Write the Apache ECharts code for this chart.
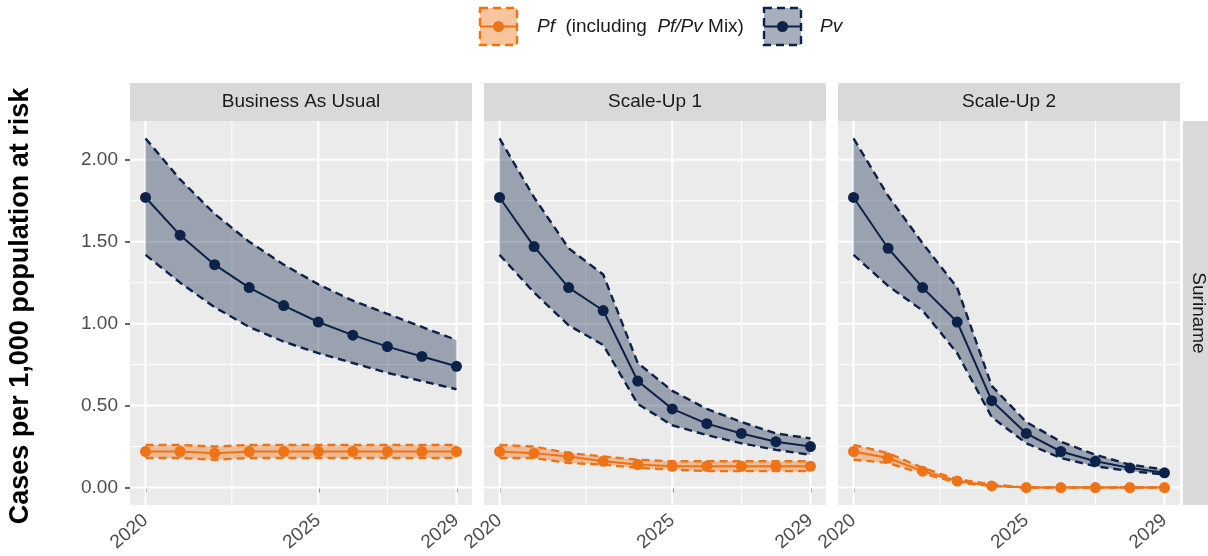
<!DOCTYPE html>
<html><head><meta charset="utf-8">
<script src="https://cdn.jsdelivr.net/npm/echarts@6/dist/echarts.min.js"></script>
<style>html,body{margin:0;padding:0;background:#fff}#c{width:1208px;height:556px}</style>
</head><body><div id="c"></div>
<script>
// ---------- data ----------
const years = [2020, 2021, 2022, 2023, 2024, 2025, 2026, 2027, 2028, 2029];
const xTicks = [2020, 2025, 2029];
const xMinorGrid = [2022.5, 2027];
const yTicks = [0, 0.5, 1, 1.5, 2];
const yMinorGrid = [0.25, 0.75, 1.25, 1.75];
const panelNames = ['Business As Usual', 'Scale-Up 1', 'Scale-Up 2'];
const rowName = 'Suriname';
const yTitle = 'Cases per 1,000 population at risk';

// Business As Usual
const bauPvMean = [1.77, 1.54, 1.36, 1.22, 1.11, 1.01, 0.93, 0.86, 0.80, 0.74];
const bauPvLow  = [1.42, 1.25, 1.10, 0.98, 0.89, 0.82, 0.76, 0.70, 0.65, 0.60];
const bauPvUp   = [2.13, 1.88, 1.67, 1.50, 1.36, 1.24, 1.14, 1.06, 0.98, 0.90];
const bauPfMean = [0.22, 0.22, 0.21, 0.22, 0.22, 0.22, 0.22, 0.22, 0.22, 0.22];
const bauPfLow  = [0.18, 0.18, 0.17, 0.18, 0.18, 0.18, 0.18, 0.18, 0.18, 0.18];
const bauPfUp   = [0.26, 0.26, 0.25, 0.26, 0.26, 0.26, 0.26, 0.26, 0.26, 0.26];
// Scale-Up 1
const su1PvMean = [1.77, 1.47, 1.22, 1.08, 0.65, 0.48, 0.39, 0.33, 0.28, 0.25];
const su1PvLow  = [1.42, 1.19, 0.99, 0.87, 0.51, 0.38, 0.32, 0.27, 0.23, 0.20];
const su1PvUp   = [2.13, 1.77, 1.46, 1.30, 0.76, 0.59, 0.48, 0.40, 0.33, 0.30];
const su1PfMean = [0.22, 0.21, 0.19, 0.16, 0.14, 0.13, 0.13, 0.13, 0.13, 0.13];
const su1PfLow  = [0.18, 0.18, 0.15, 0.14, 0.12, 0.11, 0.10, 0.10, 0.10, 0.10];
const su1PfUp   = [0.26, 0.25, 0.21, 0.19, 0.17, 0.16, 0.16, 0.16, 0.16, 0.16];
// Scale-Up 2
const su2PvMean = [1.77, 1.46, 1.22, 1.01, 0.53, 0.33, 0.22, 0.16, 0.12, 0.09];
const su2PvLow  = [1.42, 1.23, 1.08, 0.82, 0.43, 0.27, 0.18, 0.13, 0.10, 0.08];
const su2PvUp   = [2.13, 1.78, 1.49, 1.22, 0.62, 0.40, 0.28, 0.20, 0.14, 0.11];
const su2PfMean = [0.22, 0.18, 0.10, 0.04, 0.01, 0.00, 0.00, 0.00, 0.00, 0.00];
const su2PfLow  = [0.17, 0.15, 0.085, 0.03, 0.01, 0.00, 0.00, 0.00, 0.00, 0.00];
const su2PfUp   = [0.26, 0.21, 0.12, 0.05, 0.02, 0.00, 0.00, 0.00, 0.00, 0.00];

const panelData = [
  {pv: [bauPvLow, bauPvMean, bauPvUp], pf: [bauPfLow, bauPfMean, bauPfUp]},
  {pv: [su1PvLow, su1PvMean, su1PvUp], pf: [su1PfLow, su1PfMean, su1PfUp]},
  {pv: [su2PvLow, su2PvMean, su2PvUp], pf: [su2PfLow, su2PfMean, su2PfUp]}
];

// ---------- style ----------
const FONT = '"Liberation Sans", Arial, Helvetica, sans-serif';
const ORANGE = '#EF7216';
const NAVY = '#0C2249';
const ORANGE_FILL = 'rgba(239,114,22,0.38)';
const NAVY_FILL = 'rgba(12,34,73,0.36)';
const X_MIN = 2019.55, X_MAX = 2029.45;
const Y_MIN = -0.1065, Y_MAX = 2.2365;
const gridLefts = [130, 484, 838];
const GRID_W = 342, GRID_TOP = 121, GRID_H = 384;

const gridLineData = [];
xTicks.forEach(v => gridLineData.push([0, v, 1]));
xMinorGrid.forEach(v => gridLineData.push([0, v, 0]));
yTicks.forEach(v => gridLineData.push([1, v, 1]));
yMinorGrid.forEach(v => gridLineData.push([1, v, 0]));

const grids = [], xAxes = [], yAxes = [], series = [];
panelData.forEach((pd, i) => {
  grids.push({left: gridLefts[i], top: GRID_TOP, width: GRID_W, height: GRID_H,
    show: true, backgroundColor: '#EBEBEB', borderWidth: 0});
  xAxes.push({gridIndex: i, type: 'value', min: X_MIN, max: X_MAX,
    axisLine: {show: false}, splitLine: {show: false},
    axisTick: {show: true, customValues: xTicks, length: 5, lineStyle: {color: '#333333', width: 1.5}},
    axisLabel: {customValues: xTicks, rotate: 40, margin: 13, color: '#4D4D4D', fontSize: 19, fontFamily: FONT,
      formatter: v => String(v)}});
  yAxes.push({gridIndex: i, type: 'value', min: Y_MIN, max: Y_MAX,
    axisLine: {show: false}, splitLine: {show: false},
    axisTick: {show: i === 0, customValues: yTicks, length: 5, lineStyle: {color: '#333333', width: 1.5}},
    axisLabel: {show: i === 0, customValues: yTicks, margin: 12, color: '#4D4D4D', fontSize: 19, fontFamily: FONT,
      formatter: v => v.toFixed(2)}});
  // background gridlines
  series.push({
    type: 'custom', xAxisIndex: i, yAxisIndex: i, silent: true, z: 1, data: gridLineData,
    renderItem: (params, api) => {
      const cs = params.coordSys;
      const dir = api.value(0), v = api.value(1), maj = api.value(2);
      const w = maj ? 2 : 1;
      if (dir === 0) {
        const x = api.coord([v, 0])[0];
        return {type: 'line', shape: {x1: x, y1: cs.y, x2: x, y2: cs.y + cs.height}, style: {stroke: '#FFFFFF', lineWidth: w}};
      }
      const y = api.coord([2025, v])[1];
      return {type: 'line', shape: {x1: cs.x, y1: y, x2: cs.x + cs.width, y2: y}, style: {stroke: '#FFFFFF', lineWidth: w}};
    }
  });
  const addGroup = (arr, color, fill) => {
    const [low, mean, up] = arr;
    const rows = years.map((y, k) => [y, low[k], up[k]]);
    // ribbon polygon, drawn once from all rows through the axis scales
    series.push({
      type: 'custom', xAxisIndex: i, yAxisIndex: i, silent: true, z: 2,
      data: rows, encode: {x: 0, y: [1, 2]},
      renderItem: (params, api) => {
        if (params.dataIndex !== 0) return null;
        const top = rows.map(r => api.coord([r[0], r[2]]));
        const bot = rows.map(r => api.coord([r[0], r[1]])).reverse();
        return {type: 'polygon', shape: {points: top.concat(bot)}, style: {fill: fill}};
      }
    });
    const dash = {color: color, width: 2.4, type: [8, 5]};
    series.push({type: 'line', xAxisIndex: i, yAxisIndex: i, silent: true, z: 3,
      symbol: 'none', lineStyle: dash, data: years.map((y, k) => [y, low[k]])});
    series.push({type: 'line', xAxisIndex: i, yAxisIndex: i, silent: true, z: 3,
      symbol: 'none', lineStyle: dash, data: years.map((y, k) => [y, up[k]])});
    series.push({type: 'line', xAxisIndex: i, yAxisIndex: i, silent: true, z: 4,
      symbol: 'circle', symbolSize: 11, showSymbol: true,
      lineStyle: {color: color, width: 2}, itemStyle: {color: color},
      data: years.map((y, k) => [y, mean[k]])});
  };
  addGroup(pd.pf, ORANGE, ORANGE_FILL);
  addGroup(pd.pv, NAVY, NAVY_FILL);
});

const graphic = [];
// strips
panelNames.forEach((name, i) => {
  graphic.push({type: 'rect', shape: {x: gridLefts[i], y: 83, width: GRID_W, height: 38}, style: {fill: '#D9D9D9'}, z: 0});
  graphic.push({type: 'text', x: gridLefts[i] + GRID_W / 2, y: 102, z: 1,
    style: {text: name, font: '19px ' + FONT, fill: '#1A1A1A', align: 'center', verticalAlign: 'middle'}});
});
graphic.push({type: 'rect', shape: {x: 1183, y: GRID_TOP, width: 30, height: GRID_H}, style: {fill: '#D9D9D9'}, z: 0});
graphic.push({type: 'text', x: 1198, y: GRID_TOP + GRID_H / 2, rotation: -Math.PI / 2, z: 1,
  style: {text: rowName, font: '19px ' + FONT, fill: '#1A1A1A', align: 'center', verticalAlign: 'middle'}});
// y title
graphic.push({type: 'text', x: 21, y: 306, rotation: Math.PI / 2, z: 1,
  style: {text: yTitle, font: 'bold 27px ' + FONT, fill: '#000000', align: 'center', verticalAlign: 'middle'}});
// legend
const legendKey = (x, color, fill) => {
  graphic.push({type: 'rect', shape: {x: x, y: 8, width: 37, height: 37}, style: {fill: fill, stroke: color, lineWidth: 2.4, lineDash: [8, 5]}, z: 1});
  graphic.push({type: 'line', shape: {x1: x, y1: 26.5, x2: x + 37, y2: 26.5}, style: {stroke: color, lineWidth: 2}, z: 2});
  graphic.push({type: 'circle', shape: {cx: x + 18.5, cy: 26.5, r: 5.5}, style: {fill: color}, z: 3});
};
legendKey(480, ORANGE, 'rgba(239,114,22,0.42)');
legendKey(764, NAVY, 'rgba(12,34,73,0.36)');
const richI = {i: {fontStyle: 'italic', fontSize: 19, fontFamily: FONT, fill: '#1A1A1A', color: '#1A1A1A'}};
graphic.push({type: 'text', x: 537, y: 26.5, z: 1,
  style: {text: '{i|Pf}  (including  {i|Pf/Pv} Mix)', rich: richI, font: '19px ' + FONT, fill: '#1A1A1A', verticalAlign: 'middle'}});
graphic.push({type: 'text', x: 820, y: 26.5, z: 1,
  style: {text: '{i|Pv}', rich: richI, font: '19px ' + FONT, fill: '#1A1A1A', verticalAlign: 'middle'}});

const chart = echarts.init(document.getElementById('c'), null, {renderer: 'canvas'});
chart.setOption({
  animation: false,
  backgroundColor: '#FFFFFF',
  grid: grids, xAxis: xAxes, yAxis: yAxes, series: series, graphic: graphic
});
</script></body></html>
